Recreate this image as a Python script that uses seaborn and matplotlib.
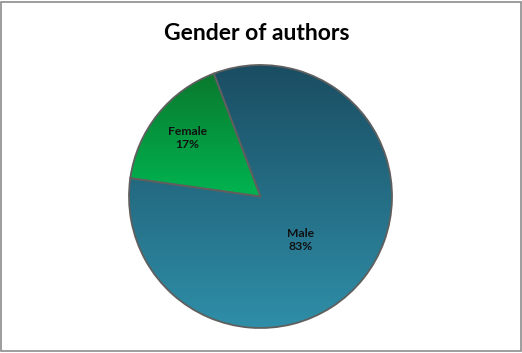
import numpy as np
import matplotlib
matplotlib.use("Agg")
import matplotlib.pyplot as plt
from matplotlib.colors import LinearSegmentedColormap
from matplotlib.patches import Rectangle
import seaborn as sns

# Data
categories = ["Male", "Female"]
values = [83, 17]
pct_labels = ["83%", "17%"]
title = "Gender of authors"

sns.set_theme(style="white")
plt.rcParams['font.family'] = ['Lato', 'DejaVu Sans']

top_colors = ["#1a4d62", "#0a782e"]
bottom_colors = ["#2f8ea8", "#00b450"]
label_radius = [0.45, 0.71]
label_angle_shift = [-9.2, 0.0]

fig = plt.figure(figsize=(5.22, 3.53), dpi=100)
W, H = 522, 353
cx, cy, r = 260.5, 196.5, 131.5
ax = fig.add_axes([(cx - r) / W, (H - cy - r) / H, 2 * r / W, 2 * r / H])

wedges, _ = ax.pie(values, startangle=172, counterclock=True, radius=1,
                   wedgeprops=dict(edgecolor="#5f5f5f", linewidth=1.3))
ax.axis("off")

grad = np.linspace(0, 1, 256).reshape(-1, 1)
for w, tc, bc, lr, la, cat, pl in zip(wedges, top_colors, bottom_colors, label_radius,
                                      label_angle_shift, categories, pct_labels):
    cmap = LinearSegmentedColormap.from_list("g", [tc, bc])
    w.set_facecolor("none")
    bb = w.get_path().get_extents()
    im = ax.imshow(grad, cmap=cmap, extent=(bb.x0, bb.x1, bb.y0, bb.y1), origin="upper",
                   aspect="auto", zorder=w.get_zorder() - 0.1, interpolation="bilinear")
    im.set_clip_path(w)
    mid = np.deg2rad((w.theta1 + w.theta2) / 2 + la)
    ax.text(lr * np.cos(mid), lr * np.sin(mid), f"{cat}\n{pl}", ha="center", va="center",
            fontsize=8.7, fontweight="bold",
            color="#111111", linespacing=1.2, zorder=5)
ax.set_xlim(-1.0, 1.0)
ax.set_ylim(-1.0, 1.0)
ax.set_aspect("equal")

fig.text(256.5 / W, 1 - 33 / H, title, ha="center", va="center",
         fontsize=16.5, fontweight="bold", color="black")

fig.patches.append(Rectangle((0.5 / W, 2.5 / H), (W - 2) / W, (H - 4) / H,
                             transform=fig.transFigure, fill=False,
                             edgecolor="#8c8c8c", linewidth=1.2))

fig.savefig("out.png", dpi=100)
